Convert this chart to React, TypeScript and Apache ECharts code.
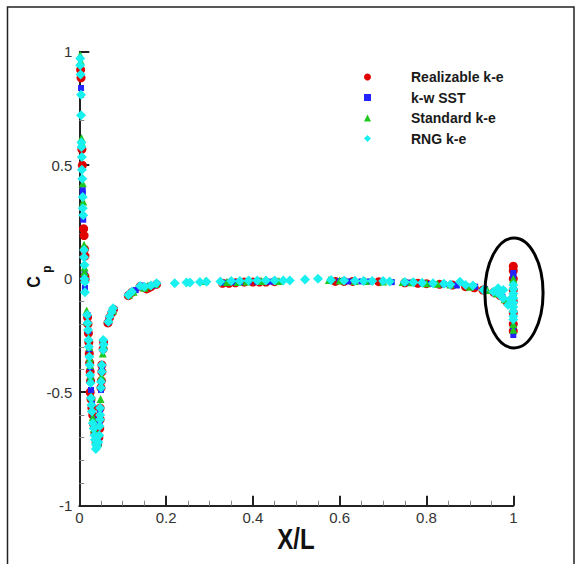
import React, { useEffect, useRef } from "react";
import * as echarts from "echarts";

// x/L, Cp pairs
const realizable: number[][] = [
  [0.003, 0.92], [0.004, 0.885], [0.006, 0.57], [0.007, 0.5], [0.01, 0.22], [0.011, 0.19], [0.012, 0.13], [0.013, 0.1], [0.013, 0.01], [0.013, -0.005],
  [0.019, -0.17], [0.02, -0.2], [0.021, -0.24], [0.022, -0.28], [0.023, -0.33], [0.024, -0.37], [0.025, -0.41], [0.026, -0.45], [0.025, -0.5], [0.027, -0.53], [0.029, -0.57], [0.031, -0.6], [0.033, -0.64], [0.036, -0.68], [0.039, -0.72], [0.042, -0.73], [0.045, -0.7],
  [0.047, -0.66], [0.048, -0.62], [0.048, -0.57], [0.05, -0.48], [0.051, -0.45], [0.052, -0.41], [0.052, -0.38], [0.055, -0.31], [0.056, -0.28], [0.066, -0.195], [0.07, -0.17], [0.075, -0.15], [0.079, -0.135],
  [0.113, -0.075], [0.121, -0.06], [0.14, -0.035], [0.155, -0.045], [0.16, -0.04], [0.165, -0.035], [0.178, -0.025],
  [0.33, -0.02], [0.345, -0.02], [0.36, -0.018], [0.38, -0.015], [0.4, -0.015], [0.415, -0.015], [0.43, -0.015], [0.45, -0.013], [0.59, -0.012], [0.61, -0.012], [0.63, -0.012], [0.69, -0.013], [0.75, -0.018], [0.78, -0.02], [0.8, -0.022], [0.83, -0.025], [0.86, -0.028], [0.89, -0.035], [0.91, -0.04],
  [0.93, -0.05], [0.955, -0.06], [0.97, -0.075], [0.985, -0.1], [1, 0.055], [1, 0.035], [1, 0.0], [1, -0.05], [1, -0.1], [1, -0.15], [1, -0.2], [1, -0.23],
];

const kwSST: number[][] = [
  [0.004, 0.84], [0.008, 0.39], [0.008, 0.375], [0.009, 0.26], [0.012, 0.02], [0.013, -0.04],
  [0.019, -0.16], [0.021, -0.23], [0.023, -0.31], [0.025, -0.39], [0.026, -0.44], [0.027, -0.49], [0.029, -0.55], [0.032, -0.62], [0.036, -0.69], [0.04, -0.73], [0.044, -0.72],
  [0.047, -0.64], [0.048, -0.58], [0.05, -0.49], [0.052, -0.4], [0.055, -0.3], [0.067, -0.19], [0.076, -0.145],
  [0.114, -0.07], [0.13, -0.05], [0.142, -0.03], [0.15, -0.035], [0.17, -0.03],
  [0.335, -0.018], [0.355, -0.015], [0.37, -0.015], [0.39, -0.013], [0.41, -0.013], [0.44, -0.013], [0.6, -0.01], [0.62, -0.012], [0.65, -0.012], [0.67, -0.012], [0.72, -0.015], [0.76, -0.017], [0.79, -0.02], [0.81, -0.023], [0.84, -0.024], [0.87, -0.03], [0.912, -0.035],
  [0.935, -0.045], [0.96, -0.065], [0.975, -0.08], [0.99, -0.11], [1, 0.025], [1, 0.01], [1, -0.08], [1, -0.17], [1, -0.215], [1, -0.248],
];

const standardKE: number[][] = [
  [0.002, 0.985], [0.003, 0.96], [0.005, 0.62], [0.006, 0.6], [0.008, 0.42], [0.009, 0.34], [0.011, 0.15], [0.012, 0.05], [0.012, 0.03],
  [0.017, -0.14], [0.019, -0.19], [0.022, -0.26], [0.023, -0.3], [0.024, -0.35], [0.025, -0.38], [0.026, -0.43], [0.028, -0.52], [0.031, -0.61], [0.034, -0.66], [0.038, -0.71], [0.043, -0.72],
  [0.047, -0.61], [0.049, -0.53], [0.051, -0.43], [0.054, -0.33], [0.056, -0.29], [0.068, -0.18], [0.078, -0.14],
  [0.115, -0.07], [0.125, -0.058], [0.15, -0.04], [0.158, -0.03], [0.175, -0.022],
  [0.29, -0.01], [0.34, -0.015], [0.365, -0.015], [0.385, -0.012], [0.42, -0.01], [0.46, -0.01], [0.575, -0.006], [0.6, -0.008], [0.635, -0.01], [0.66, -0.01], [0.7, -0.012], [0.745, -0.014], [0.765, -0.016], [0.8, -0.02], [0.825, -0.022], [0.855, -0.026], [0.9, -0.035],
  [0.94, -0.05], [0.962, -0.065], [0.98, -0.09], [1, 0.0], [1, -0.005], [1, -0.06], [1, -0.13], [1, -0.2], [1, -0.225],
];

const rngKE: number[][] = [
  [0.002, 0.97], [0.002, 0.94], [0.003, 0.9], [0.004, 0.81], [0.004, 0.72], [0.005, 0.6], [0.005, 0.58], [0.006, 0.536], [0.006, 0.48], [0.007, 0.44], [0.008, 0.36], [0.008, 0.31], [0.009, 0.28], [0.011, 0.126], [0.011, 0.095], [0.012, 0.06], [0.012, 0.0], [0.013, -0.015], [0.013, -0.06],
  [0.018, -0.16], [0.019, -0.195], [0.02, -0.226], [0.021, -0.27], [0.022, -0.3], [0.023, -0.344], [0.024, -0.38], [0.025, -0.424], [0.026, -0.46], [0.027, -0.525], [0.028, -0.556], [0.029, -0.585], [0.031, -0.637], [0.033, -0.66], [0.035, -0.69], [0.036, -0.71], [0.038, -0.73], [0.038, -0.75], [0.041, -0.74], [0.044, -0.72], [0.046, -0.69],
  [0.047, -0.65], [0.048, -0.62], [0.048, -0.6], [0.048, -0.57], [0.05, -0.48], [0.05, -0.454], [0.052, -0.41], [0.052, -0.38], [0.055, -0.314], [0.056, -0.29], [0.055, -0.27], [0.067, -0.19], [0.07, -0.167], [0.075, -0.145], [0.078, -0.13],
  [0.113, -0.072], [0.121, -0.057], [0.14, -0.032], [0.15, -0.035], [0.165, -0.03], [0.178, -0.02],
  [0.22, -0.02], [0.247, -0.017], [0.255, -0.017], [0.278, -0.015], [0.293, -0.013], [0.325, -0.012], [0.35, -0.01], [0.37, -0.01], [0.39, -0.008], [0.41, -0.008], [0.43, -0.008], [0.45, -0.008], [0.47, -0.008], [0.485, -0.008],
  [0.52, -0.004], [0.55, 0.0], [0.58, -0.006], [0.61, -0.008], [0.635, -0.009], [0.655, -0.01], [0.675, -0.01], [0.7, -0.01], [0.715, -0.012], [0.75, -0.014], [0.77, -0.016], [0.79, -0.018], [0.815, -0.02], [0.84, -0.022], [0.855, -0.025], [0.877, -0.013], [0.89, -0.028], [0.907, -0.03],
  [0.931, -0.05], [0.954, -0.057], [0.965, -0.042], [0.977, -0.05], [0.969, -0.072], [0.977, -0.086], [0.988, -0.116], [0.993, -0.09], [0.997, -0.11],
  [1, -0.028], [1, -0.045], [1, -0.065], [1, -0.085], [1, -0.105], [1, -0.125], [1, -0.145], [1, -0.165], [1, -0.18],
];

const seriesNames = ["Realizable k-e", "k-w SST", "Standard k-e", "RNG k-e"];
const seriesColors = ["#e00000", "#2323ff", "#1ec81e", "#19f0f0"];
const seriesSymbols = ["circle", "rect", "triangle", "diamond"];
const seriesSizes = [9, 6, 8, 10];
const seriesData = [realizable, kwSST, standardKE, rngKE];

// annotation ellipse (data units): centre x, centre y, radius x, radius y
const ellipseAnnotation: number[][] = [[1.0016, -0.063, 0.067, 0.242]];

const FONT = "'Liberation Sans', Arial, Helvetica, sans-serif";

export default function App() {
  const ref = useRef<HTMLDivElement>(null);
  useEffect(() => {
    if (!ref.current) return;
    const chart = echarts.init(ref.current, null, { renderer: "svg" });
    const option: any = {
      animation: false,
      grid: { left: 79.3, right: 66.7, top: 51.7, bottom: 58.3 },
      legend: {
        orient: "vertical",
        left: 364,
        top: 70,
        padding: 0,
        itemWidth: 7,
        itemHeight: 7,
        itemGap: 6.5,
        data: seriesNames,
        textStyle: {
          fontFamily: FONT,
          fontSize: 14,
          fontWeight: "bold",
          color: "#1a1a1a",
          lineHeight: 14,
          padding: [0, 0, 0, 35],
        },
      },
      xAxis: {
        type: "value",
        min: 0,
        max: 1,
        interval: 0.2,
        axisLine: { show: true, onZero: false, lineStyle: { color: "#222", width: 2 } },
        axisTick: { show: true, inside: true, length: 10, lineStyle: { color: "#222", width: 2 } },
        minorTick: { show: true, splitNumber: 4, length: 5, lineStyle: { color: "#888", width: 1 } },
        splitLine: { show: false },
        axisLabel: { margin: 4, fontFamily: FONT, fontSize: 15, color: "#333" },
      },
      yAxis: {
        type: "value",
        min: -1,
        max: 1,
        interval: 0.5,
        axisLine: { show: true, onZero: false, lineStyle: { color: "#222", width: 2 } },
        axisTick: { show: true, inside: true, length: 10, lineStyle: { color: "#222", width: 2 } },
        minorTick: { show: true, splitNumber: 5, length: 5, lineStyle: { color: "#888", width: 1 } },
        splitLine: { show: false },
        axisLabel: { margin: 7, fontFamily: FONT, fontSize: 15, color: "#333" },
      },
      series: [
        ...seriesNames.map((name, i) => ({
          name,
          type: "scatter",
          symbol: seriesSymbols[i],
          symbolSize: seriesSizes[i],
          itemStyle: { color: seriesColors[i], opacity: 1 },
          data: seriesData[i],
          z: 2 + i,
        })),
        {
          type: "custom",
          name: "annotation",
          silent: true,
          clip: false,
          z: 10,
          data: ellipseAnnotation,
          renderItem: (params: any, api: any) => {
            const c = api.coord([api.value(0), api.value(1)]);
            const s = api.size([api.value(2), api.value(3)]);
            return {
              type: "ellipse",
              shape: { cx: c[0], cy: c[1], rx: s[0], ry: s[1] },
              style: { fill: "transparent", stroke: "#000", lineWidth: 3 },
            };
          },
        },
      ],
      graphic: [
        {
          type: "rect",
          shape: { x: 7.5, y: 7, width: 566.5, height: 640 },
          style: { fill: "transparent", stroke: "#222", lineWidth: 1.5 },
          silent: true,
          z: -10,
        },
        {
          type: "text",
          x: 296,
          y: 539,
          scaleY: 1.2,
          style: {
            text: "X/L",
            fontFamily: FONT,
            fontSize: 24,
            fontWeight: "bold",
            fill: "#111",
            align: "center",
            verticalAlign: "middle",
          },
          z: 100,
        },
        {
          type: "text",
          x: 33.5,
          y: 282,
          rotation: Math.PI / 2,
          scaleX: 0.85,
          style: {
            text: "C",
            fontFamily: FONT,
            fontSize: 19,
            fontWeight: "bold",
            fill: "#111",
            align: "center",
            verticalAlign: "middle",
          },
          z: 100,
        },
        {
          type: "text",
          x: 47,
          y: 269,
          rotation: Math.PI / 2,
          style: {
            text: "p",
            fontFamily: FONT,
            fontSize: 12,
            fontWeight: "bold",
            fill: "#111",
            align: "center",
            verticalAlign: "middle",
          },
          z: 100,
        },
      ],
    };
    chart.setOption(option);
    return () => chart.dispose();
  }, []);
  return (
    <div
      ref={ref}
      style={{ position: "fixed", left: 0, top: 0, width: 580, height: 564, background: "#fff" }}
    />
  );
}
